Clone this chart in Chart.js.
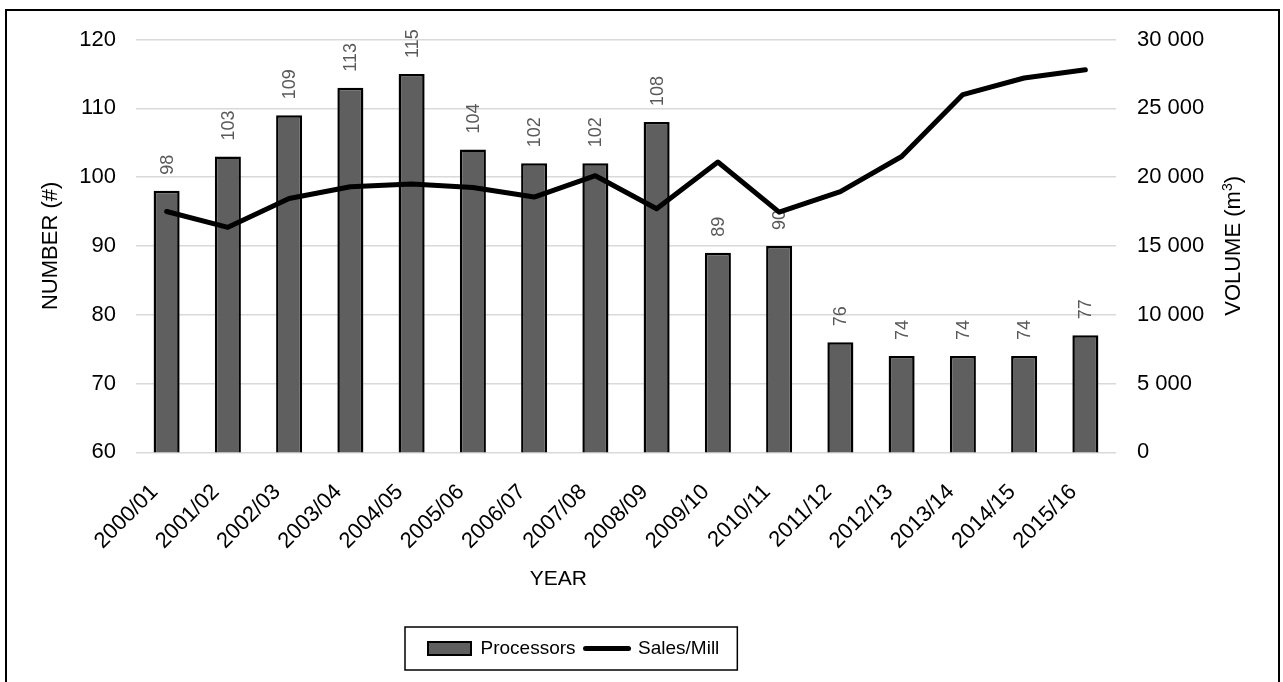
<!DOCTYPE html>
<html>
<head>
<meta charset="utf-8">
<script src="https://cdn.jsdelivr.net/npm/chart.js@4.4.1/dist/chart.umd.min.js"></script>
<style>
  html, body { margin: 0; padding: 0; background: #fff; overflow: hidden; }
  #wrap { position: relative; width: 1283px; height: 682px; }
  #c { position: absolute; left: 0; top: 0; }
  #frame { position: absolute; left: 5px; top: 9px; width: 1271px; height: 700px; border: 2px solid #000; pointer-events: none; }
</style>
</head>
<body>
<div id="wrap">
  <canvas id="c" width="1283" height="682"></canvas>
  <div id="frame"></div>
</div>
<script>
// ---- data ----
const categories = ['2000/01','2001/02','2002/03','2003/04','2004/05','2005/06','2006/07','2007/08',
                    '2008/09','2009/10','2010/11','2011/12','2012/13','2013/14','2014/15','2015/16'];
const processors = [98, 103, 109, 113, 115, 104, 102, 102, 108, 89, 90, 76, 74, 74, 74, 77];
const salesPerMill = [17500, 16350, 18450, 19300, 19500, 19250, 18550, 20100, 17700, 21100, 17450, 18950, 21500, 26000, 27200, 27800];
const leftTicks = { min: 60, max: 120, step: 10 };
const rightTicks = { min: 0, max: 30000, step: 5000 };

const FONT = "'Liberation Sans', Arial, sans-serif";
Chart.defaults.font.family = FONT;
Chart.defaults.color = '#000';

function fmtSpace(v) { return String(v).replace(/\B(?=(\d{3})+(?!\d))/g, ' '); }

const labelPlugin = {
  id: 'barLabels',
  afterDatasetDraw(chart, args) {
    if (args.index !== 0) return;
    const ctx = chart.ctx;
    ctx.save();
    ctx.font = "18px " + FONT;
    ctx.fillStyle = '#595959';
    ctx.textAlign = 'left';
    ctx.textBaseline = 'middle';
    args.meta.data.forEach((el, i) => {
      ctx.save();
      ctx.translate(el.x + 1, el.y - 16);
      ctx.rotate(-Math.PI / 2);
      ctx.fillText(String(processors[i]), 0, 0);
      ctx.restore();
    });
    ctx.restore();
  }
};

const decoPlugin = {
  id: 'deco',
  afterLayout(chart) {
    const lg = chart.legend;
    if (!lg || !lg.lineWidths) return;
    const pad = lg.options.labels.padding;
    lg.left = 0;
    lg.right = 2 * 428 - pad + lg.lineWidths[0];
  },
  afterDraw(chart) {
    const ctx = chart.ctx;
    const ca = chart.chartArea;
    // right axis title (reads bottom-to-top)
    ctx.save();
    ctx.fillStyle = '#000';
    const fs = 22;
    ctx.font = fs + "px " + FONT;
    const p1 = 'VOLUME (m', p2 = '3', p3 = ')';
    const w1 = ctx.measureText(p1).width;
    ctx.font = Math.round(fs * 0.65) + "px " + FONT;
    const w2 = ctx.measureText(p2).width;
    ctx.font = fs + "px " + FONT;
    const w3 = ctx.measureText(p3).width;
    const total = w1 + w2 + w3;
    ctx.translate(ca.right + 118, (ca.top + ca.bottom) / 2);
    ctx.rotate(-Math.PI / 2);
    ctx.textAlign = 'left';
    ctx.textBaseline = 'middle';
    let x = -total / 2;
    ctx.fillText(p1, x, 0); x += w1;
    ctx.font = Math.round(fs * 0.65) + "px " + FONT;
    ctx.fillText(p2, x, -6); x += w2;
    ctx.font = fs + "px " + FONT;
    ctx.fillText(p3, x, 0);
    ctx.restore();

    // x axis title
    const xs = chart.scales.x;
    ctx.save();
    ctx.fillStyle = '#000';
    ctx.font = "21px " + FONT;
    ctx.textAlign = 'center';
    ctx.textBaseline = 'middle';
    ctx.fillText('YEAR', xs.left + xs.width * 0.431, 579);
    ctx.restore();

    // legend frame
    const lg = chart.legend;
    if (lg && lg.legendHitBoxes && lg.legendHitBoxes.length) {
      const hb = lg.legendHitBoxes;
      const first = hb[0], last = hb[hb.length - 1];
      const cy = first.top + first.height / 2;
      ctx.save();
      ctx.strokeStyle = '#000';
      ctx.lineWidth = 1.5;
      ctx.strokeRect(first.left - 23, cy - 21.5, (last.left + last.width + 18) - (first.left - 23), 43);
      ctx.restore();
    }
  }
};

const ctx = document.getElementById('c').getContext('2d');
new Chart(ctx, {
  data: {
    labels: categories,
    datasets: [
      {
        type: 'bar',
        label: 'Processors',
        data: processors,
        yAxisID: 'y',
        backgroundColor: '#5f5f5f',
        borderColor: '#000',
        borderWidth: 2.5,
        categoryPercentage: 1,
        barPercentage: 0.425,
        order: 1
      },
      {
        type: 'line',
        label: 'Sales/Mill',
        data: salesPerMill,
        yAxisID: 'y1',
        borderColor: '#000',
        backgroundColor: '#000',
        borderWidth: 5,
        borderCapStyle: 'round',
        borderJoinStyle: 'round',
        tension: 0,
        pointRadius: 0,
        pointHoverRadius: 0,
        fill: false,
        order: 0
      }
    ]
  },
  options: {
    responsive: false,
    animation: false,
    devicePixelRatio: 1,
    layout: { padding: { top: 39.5, left: 0, right: 0, bottom: 14 } },
    plugins: {
      tooltip: { enabled: false },
      legend: {
        position: 'bottom',
        labels: {
          font: { size: 19, family: FONT },
          color: '#000',
          usePointStyle: true,
          pointStyleWidth: 43,
          boxHeight: 13,
          padding: 10,
          sort: (a, b) => a.datasetIndex - b.datasetIndex,
          generateLabels(chart) {
            const items = Chart.defaults.plugins.legend.labels.generateLabels(chart);
            items.forEach(it => {
              if (it.datasetIndex === 0) { it.pointStyle = 'rect'; it.lineWidth = 2; it.fillStyle = '#5f5f5f'; it.strokeStyle = '#000'; }
              else { it.pointStyle = 'line'; it.lineWidth = 5; it.strokeStyle = '#000'; it.lineCap = 'round'; }
            });
            return items;
          }
        }
      }
    },
    scales: {
      x: {
        grid: { display: false, drawTicks: false },
        border: { display: false },
        ticks: {
          font: { size: 22 },
          color: '#000',
          maxRotation: 45,
          minRotation: 45,
          padding: 27,
          labelOffset: -12,
          autoSkip: false
        },
        afterFit(s) {
          const lgH = s.chart.legend ? s.chart.legend.height : 40;
          s.height = 682 - 14 - lgH - 452.3;
        }
      },
      y: {
        position: 'left',
        min: leftTicks.min,
        max: leftTicks.max,
        ticks: { stepSize: leftTicks.step, font: { size: 22 }, color: '#000', padding: 20 },
        grid: { color: '#d9d9d9', lineWidth: 1.5, drawTicks: false },
        border: { display: false },
        title: { display: true, text: 'NUMBER (#)', font: { size: 22 }, color: '#000', padding: { top: 38, bottom: 0 } },
        afterFit(s) { s.width = 136; }
      },
      y1: {
        position: 'right',
        min: rightTicks.min,
        max: rightTicks.max,
        ticks: { stepSize: rightTicks.step, font: { size: 22 }, color: '#000', padding: 21, callback: v => fmtSpace(v) },
        grid: { display: false, drawTicks: false },
        border: { display: false },
        afterFit(s) { s.width = 1283 - 1116; }
      }
    }
  },
  plugins: [labelPlugin, decoPlugin]
});
</script>
</body>
</html>
